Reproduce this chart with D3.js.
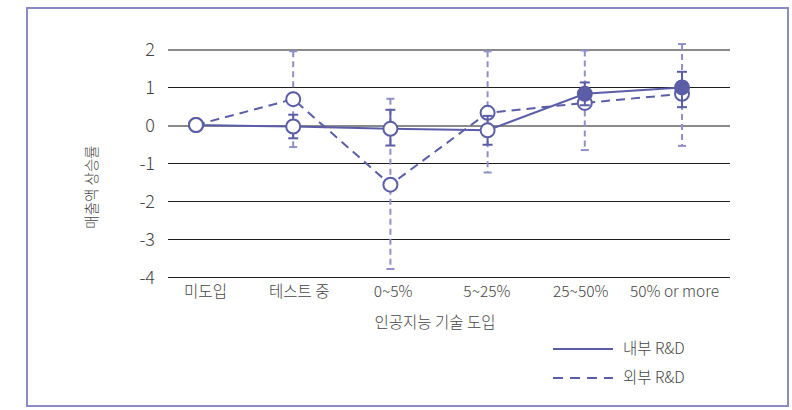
<!DOCTYPE html>
<html>
<head>
<meta charset="utf-8">
<script src="https://cdn.jsdelivr.net/npm/d3@7"></script>
<style>
  html, body { margin: 0; padding: 0; background: #fff; }
  svg { display: block; }
  text { font-family: "Noto Sans CJK KR", "Noto Sans", sans-serif; font-weight: 300; fill: #444; }
</style>
</head>
<body>
<svg id="chart" width="792" height="410"></svg>
<script>
// AI adoption level vs. sales growth rate, split by internal / external R&D
const categories = ["미도입", "테스트 중", "0~5%", "5~25%", "25~50%", "50% or more"];
const yTicks = [2, 1, 0, -1, -2, -3, -4];

// 내부 R&D (solid line)
const internalMean  = [0, -0.04, -0.10, -0.14, 0.82, 0.99];
const internalLow   = [0, -0.35, -0.54, -0.52, 0.52, 0.47];
const internalHigh  = [0, 0.27, 0.40, 0.24, 1.12, 1.40];
const internalSig   = [false, false, false, false, true, true];

// 외부 R&D (dashed line)
const externalMean  = [0, 0.68, -1.57, 0.32, 0.58, 0.82];
const externalLow   = [0, -0.58, -3.79, -1.25, -0.66, -0.55];
const externalHigh  = [0, 1.94, 0.69, 1.94, 1.96, 2.13];

const seriesNames = ["내부 R&D", "외부 R&D"];

const mainColor = "#5b5ea6";
const lightColor = "#8f90c9";

const svg = d3.select("#chart");

// outer frame
svg.append("rect")
  .attr("x", 27).attr("y", 8).attr("width", 761).attr("height", 398)
  .attr("fill", "none").attr("stroke", "#8a8bc2").attr("stroke-width", 2);

// marks and category labels use slightly different spreads
const x = d3.scalePoint().domain(categories).range([196, 682]);
const xLabel = d3.scalePoint().domain(categories).range([205, 674]);
const y = d3.scaleLinear().domain([-4, 2]).range([277, 49]);
const gridLeft = 168, gridRight = 730;

// horizontal gridlines
svg.append("g").selectAll("line").data(yTicks).join("line")
  .attr("x1", gridLeft).attr("x2", gridRight)
  .attr("y1", d => y(d) + 0.5).attr("y2", d => y(d) + 0.5)
  .attr("stroke", d => (d === 2 || d === 0) ? "#8a8a8a" : "#1e1e1e")
  .attr("stroke-width", d => (d === 2 || d === 0) ? 2 : 1)
  .attr("shape-rendering", "crispEdges");

// y axis labels
const yAxis = d3.axisLeft(y).tickValues(yTicks).tickSize(0).tickPadding(0)
  .tickFormat(d => d < 0 ? "-" + Math.abs(d) : String(d));
const gy = svg.append("g").attr("transform", `translate(155,0)`).call(yAxis);
gy.select(".domain").remove();
gy.selectAll("text").attr("font-size", 18).attr("fill", "#444")
  .style("font-family", "'Noto Sans CJK KR', sans-serif").style("font-weight", 300)
  .attr("dy", "0.34em");

// x axis labels
const xAxis = d3.axisBottom(xLabel).tickSize(0).tickPadding(0);
const gx = svg.append("g").attr("transform", `translate(0,286)`).call(xAxis);
gx.select(".domain").remove();
gx.selectAll("text").attr("font-size", 15.5).attr("fill", "#444")
  .style("font-family", "'Noto Sans CJK KR', sans-serif").style("font-weight", 300)
  .attr("dy", "0.71em");

// axis titles
svg.append("text")
  .attr("x", 435).attr("y", 328).attr("text-anchor", "middle")
  .attr("font-size", 15.5)
  .text("인공지능 기술 도입");
svg.append("text")
  .attr("transform", "translate(97,187) rotate(-90)")
  .attr("text-anchor", "middle").attr("font-size", 14.5)
  .text("매출액 상승률");

const idx = d3.range(categories.length);

function errorBars(low, high, color, dashed, capW) {
  const g = svg.append("g");
  const items = idx.filter(i => high[i] !== low[i]);
  g.selectAll("line.bar").data(items).join("line")
    .attr("x1", i => x(categories[i])).attr("x2", i => x(categories[i]))
    .attr("y1", i => y(high[i])).attr("y2", i => y(low[i]))
    .attr("stroke", color).attr("stroke-width", 2)
    .attr("stroke-dasharray", dashed ? "6,4" : null);
  ["low", "high"].forEach(k => {
    const arr = k === "low" ? low : high;
    g.selectAll("line.cap" + k).data(items).join("line")
      .attr("x1", i => x(categories[i]) - capW).attr("x2", i => x(categories[i]) + capW)
      .attr("y1", i => y(arr[i])).attr("y2", i => y(arr[i]))
      .attr("stroke", color).attr("stroke-width", 2);
  });
}

// external R&D: error bars, dashed connecting line, hollow markers
errorBars(externalLow, externalHigh, lightColor, true, 4);
svg.append("path")
  .attr("d", d3.line().x(i => x(categories[i])).y(i => y(externalMean[i]))(idx))
  .attr("fill", "none").attr("stroke", mainColor).attr("stroke-width", 2)
  .attr("stroke-dasharray", "9,6");
svg.append("g").selectAll("circle").data(idx).join("circle")
  .attr("cx", i => x(categories[i])).attr("cy", i => y(externalMean[i])).attr("r", 7)
  .attr("fill", "#fff").attr("stroke", mainColor).attr("stroke-width", 2);

// internal R&D: error bars, solid line, markers (filled where significant)
errorBars(internalLow, internalHigh, mainColor, false, 5);
svg.append("path")
  .attr("d", d3.line().x(i => x(categories[i])).y(i => y(internalMean[i]))(idx))
  .attr("fill", "none").attr("stroke", mainColor).attr("stroke-width", 2);
svg.append("g").selectAll("circle").data(idx).join("circle")
  .attr("cx", i => x(categories[i])).attr("cy", i => y(internalMean[i])).attr("r", 7)
  .attr("fill", i => internalSig[i] ? mainColor : "#fff")
  .attr("stroke", mainColor).attr("stroke-width", 2);

// legend
const legend = svg.append("g");
seriesNames.forEach((name, k) => {
  const ly = 349 + k * 29;
  legend.append("line")
    .attr("x1", 553).attr("x2", 613).attr("y1", ly).attr("y2", ly)
    .attr("stroke", mainColor).attr("stroke-width", 2)
    .attr("stroke-dasharray", k === 1 ? "10,7" : null);
  legend.append("text")
    .attr("x", 623).attr("y", ly).attr("dy", "0.35em")
    .attr("font-size", 15.5).text(name);
});
</script>
</body>
</html>
